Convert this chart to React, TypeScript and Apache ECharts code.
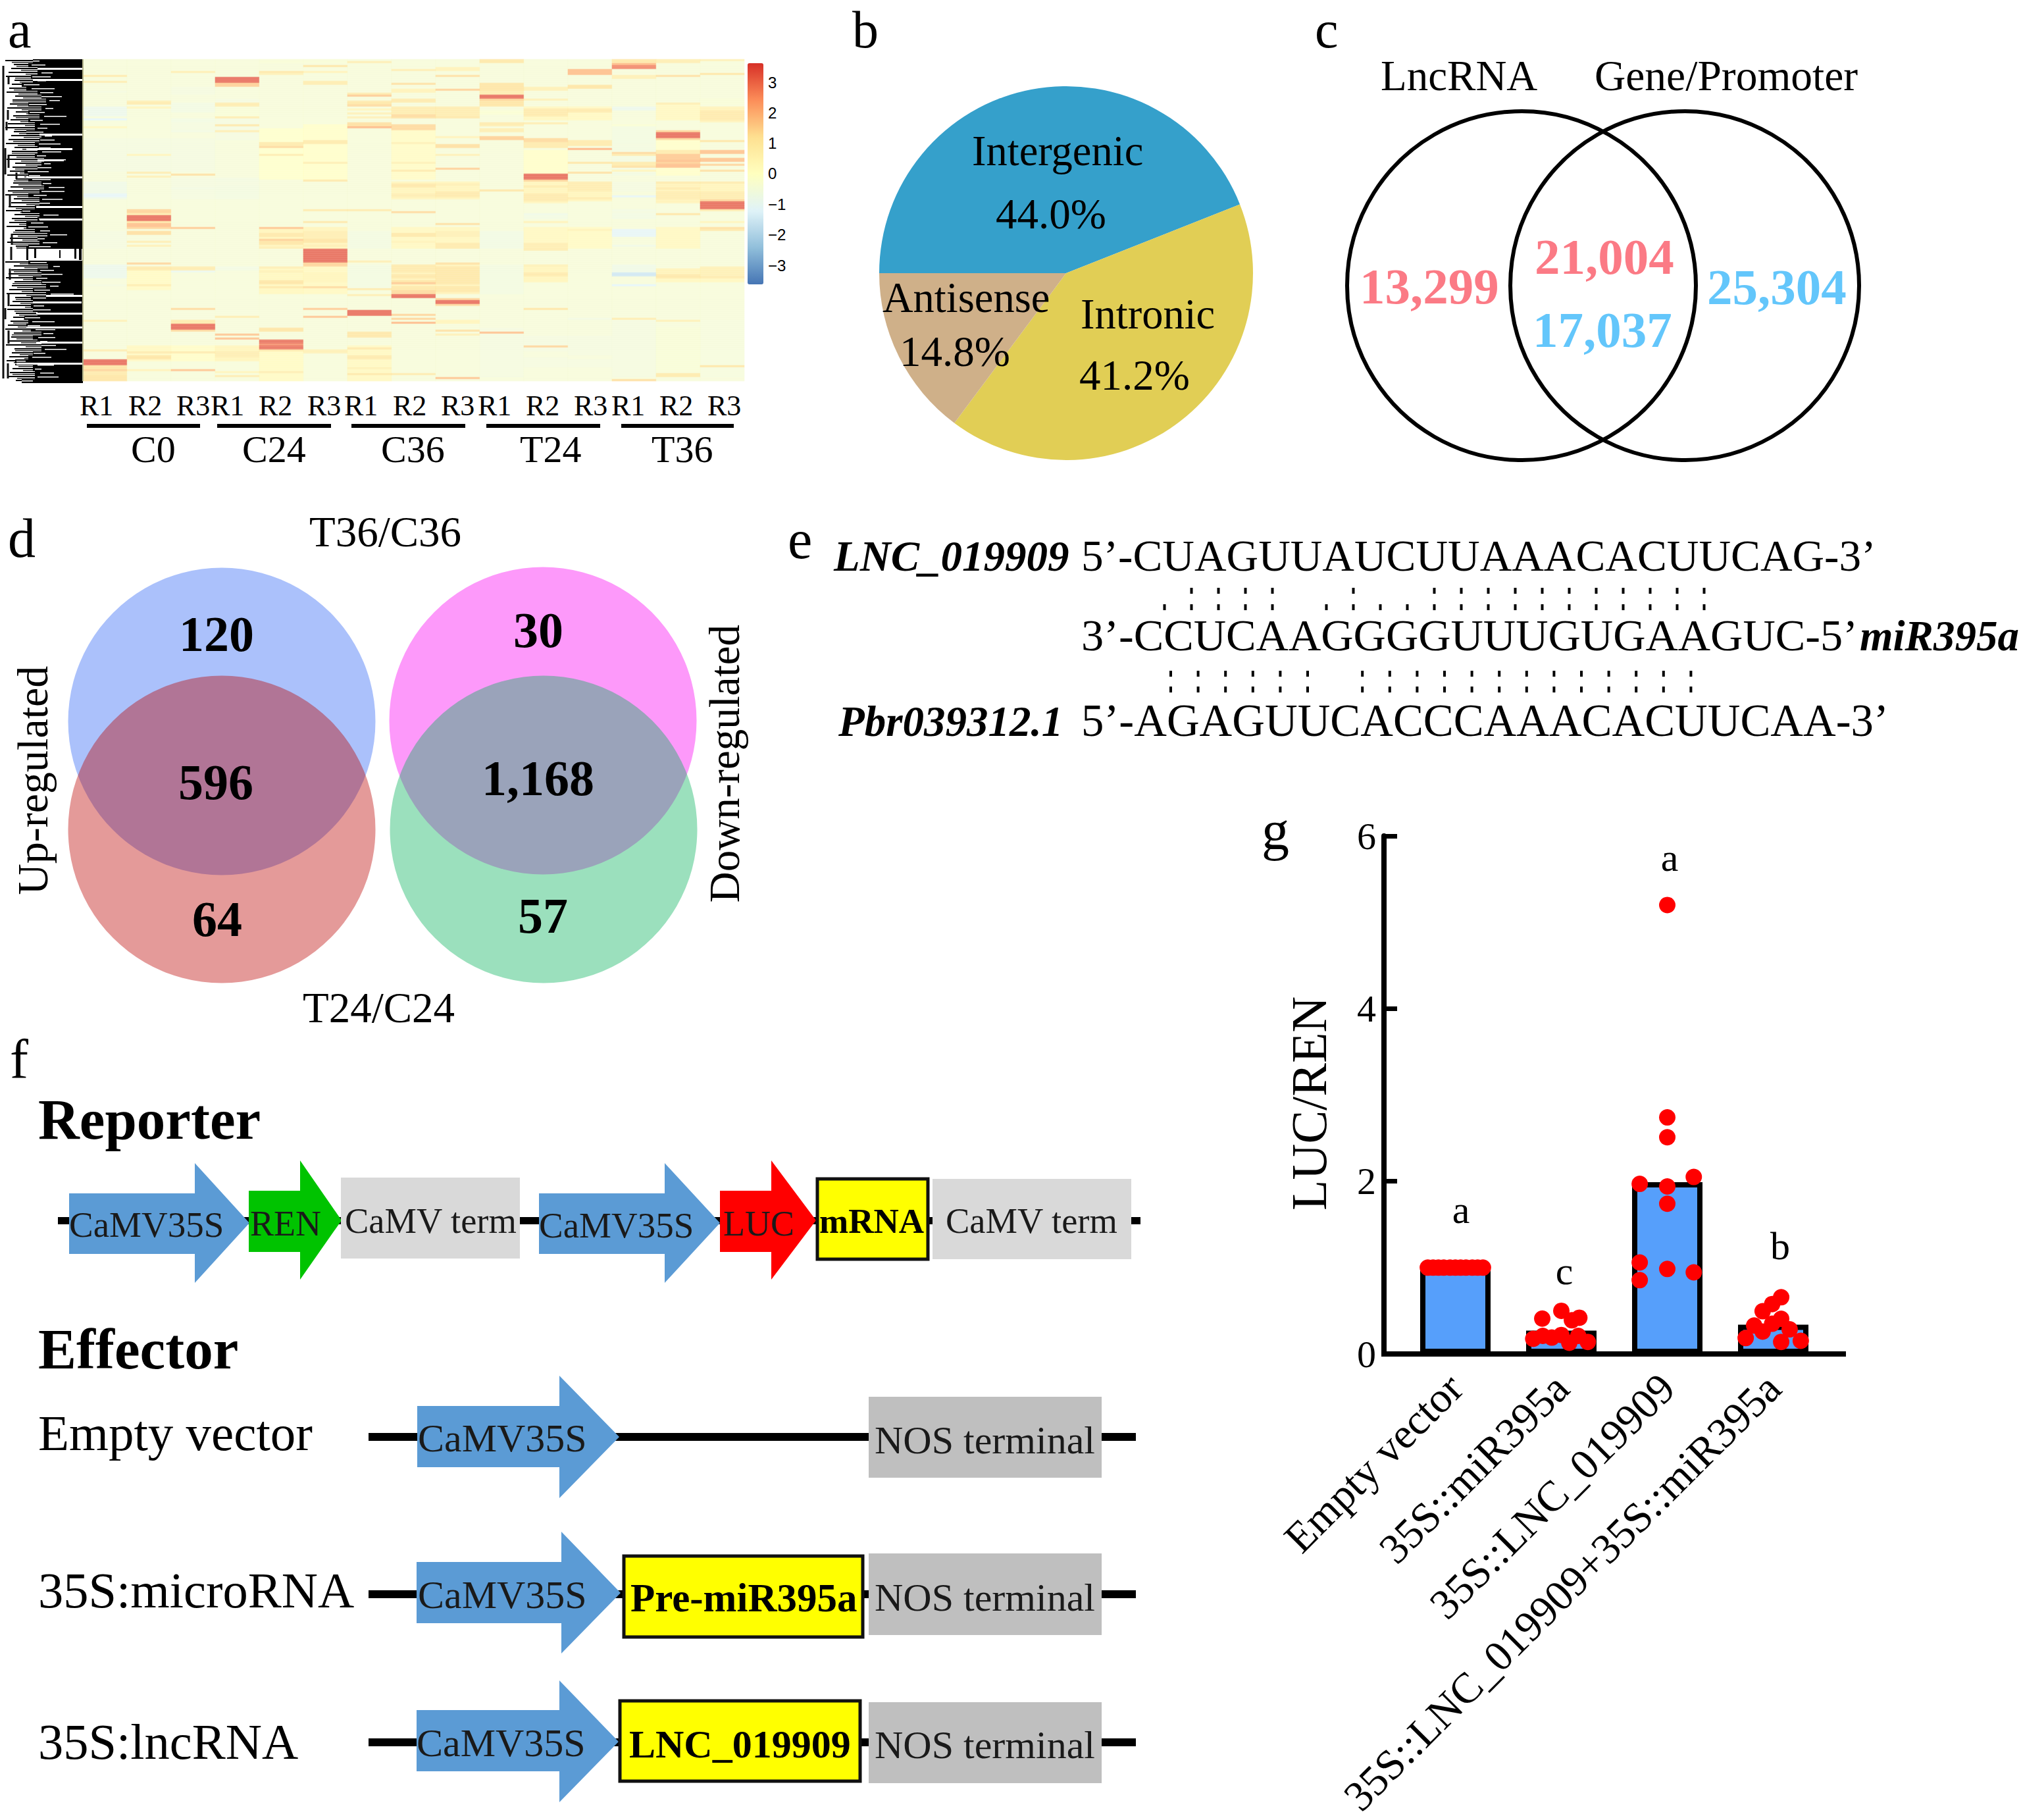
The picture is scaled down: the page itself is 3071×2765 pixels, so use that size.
import React, { useEffect, useRef } from "react";
import * as echarts from "echarts";

// ---------- panel a : heat map ----------
const heatColumns = ["C0 R1","C0 R2","C0 R3","C24 R1","C24 R2","C24 R3","C36 R1","C36 R2","C36 R3","T24 R1","T24 R2","T24 R3","T36 R1","T36 R2","T36 R3"];
const heatRowCount = 163;
const heatBase = -0.38;
type Band = number[];
const c0: Band[] = [[8,8,1],[11,11,.9],[16,16,-.5],[24,28,-.8],[30,30,-1.2],[34,34,.4],[62,70,-.7],[68,69,-1.1],[87,95,-.5],[104,110,-.8],[114,114,-.5],[132,132,.7],[147,147,.9],[152,154,3.2],[155,156,1.2],[157,157,1.5],[158,159,1],[160,162,1.2]];
const c1: Band[] = [[0,1,-.4],[21,21,.8],[22,22,1],[24,24,.5],[28,30,-.4],[48,48,.5],[57,57,.9],[59,59,.7],[76,77,1.5],[78,78,.9],[79,81,3.2],[82,82,1.1],[83,84,1.9],[85,85,1.5],[87,88,1.3],[92,92,.8],[94,94,.7],[103,103,1.5],[105,106,1],[114,114,.9],[148,148,1],[150,151,1.2],[157,157,.6]];
const c2: Band[] = [[0,1,-.4],[6,6,.8],[14,17,-.5],[22,26,-.6],[32,35,-.5],[58,58,1.3],[65,65,-.6],[85,85,1.7],[93,95,-.4],[105,106,.9],[107,107,-.9],[126,126,1.4],[132,133,1],[134,136,3.2],[137,137,1.4],[148,148,1],[157,157,1.8]];
const c3: Band[] = [[9,11,3.2],[12,13,1.6],[22,23,.9],[24,28,-.3],[29,29,.9],[33,33,1.1],[36,36,.8],[62,63,-.5],[105,106,-.6],[130,130,.9],[139,139,1.8],[141,141,1.9],[148,150,.8],[158,158,.5],[160,160,.9]];
const c4: Band[] = [[0,1,-.3],[6,6,1.1],[7,7,.7],[42,43,1],[44,44,1.4],[48,48,.9],[85,85,1.8],[88,89,1.1],[91,91,1.6],[92,93,1.2],[95,95,.8],[105,105,.8],[107,107,.7],[112,113,1.2],[115,115,1.1],[136,137,1.2],[142,143,3.1],[144,144,2.7],[145,146,3.1],[147,147,1],[158,158,.8]];
const c5: Band[] = [[0,1,-.3],[3,3,1.2],[6,6,.6],[11,12,.9],[41,42,1],[52,52,.8],[61,61,1.1],[76,76,1],[82,82,1.1],[87,90,.8],[91,92,1.2],[94,94,.8],[96,102,3.2],[103,104,1.5],[108,112,.5],[115,115,1.4],[126,126,1.7],[130,130,1.8],[132,132,-.4],[147,148,.7]];
const c6: Band[] = [[1,1,.8],[17,17,1],[18,18,1.7],[21,21,1],[22,22,1.2],[23,23,1.4],[25,25,.5],[27,27,.7],[29,29,.7],[32,34,1.3],[34,34,2],[76,76,1],[102,102,.8],[116,116,1],[119,119,.8],[127,129,3.2],[138,140,1.1],[146,146,1.1],[150,151,1],[156,156,.7],[159,159,1.1]];
const c7: Band[] = [[5,5,.8],[12,12,1.3],[15,16,.6],[20,21,1],[24,27,.9],[28,28,1.4],[29,29,1.3],[33,35,1.4],[42,42,.7],[52,52,.7],[56,56,1],[63,64,1.1],[68,69,.8],[77,77,1.4],[88,89,1.1],[92,92,.6],[104,107,1],[109,110,1.1],[112,112,1.2],[113,113,1.7],[115,116,1.1],[117,118,1.4],[119,120,3.2],[129,129,1.5],[131,131,1.5],[133,133,2],[159,159,1]];
const c8: Band[] = [[4,5,.6],[8,8,1.3],[15,15,1.6],[24,28,.9],[29,29,1.1],[39,39,.6],[43,44,1.3],[48,48,.7],[55,55,1.6],[63,63,.8],[67,69,1],[83,83,1.3],[87,89,.7],[93,95,1],[103,103,1.3],[105,113,1.1],[115,117,1.1],[121,121,1.5],[122,123,3.2],[124,124,1.4],[132,133,.5],[137,137,1.3],[139,139,.7],[161,161,1.8]];
const c9: Band[] = [[0,1,1.1],[12,12,1.2],[13,15,1.2],[16,17,.9],[18,19,3.2],[20,20,1.5],[21,21,1.2],[22,23,1.2],[26,27,-.2],[32,32,1],[33,33,.9],[35,36,.8],[39,40,1.6],[66,66,1.2],[138,138,1.9]];
const c10: Band[] = [[14,15,.7],[20,20,.7],[25,28,1],[32,32,.9],[40,41,1.4],[42,44,1],[58,60,3.2],[61,61,1.5],[64,64,1],[68,71,1],[78,78,-.7],[82,82,.6],[93,95,.8],[96,96,.9],[104,104,.7],[108,109,1],[126,126,1.2],[145,145,1.5],[148,150,-.4]];
const c11: Band[] = [[5,7,1.9],[13,14,1.2],[25,26,1],[41,41,1],[42,43,1],[45,45,2.1],[52,52,1.2],[57,57,1.3],[62,66,.9],[70,70,1],[86,86,.6],[131,131,-.6],[150,151,-.4]];
const c12: Band[] = [[0,1,1.1],[2,2,2],[3,4,2.8],[8,9,.7],[15,17,-.4],[20,20,-.4],[24,25,-.8],[33,33,-.2],[43,43,-.5],[47,47,1.4],[48,48,1],[52,53,1],[54,54,1.3],[56,56,.5],[62,66,-.5],[69,69,-1.1],[77,77,-.5],[86,89,-1.1],[94,94,-.7],[104,109,-.7],[108,109,-1.6],[114,114,-1.2],[131,131,.9],[162,162,1.3]];
const c13: Band[] = [[0,1,.8],[8,8,1.3],[22,22,.8],[36,36,1.5],[37,39,3.2],[40,40,1.4],[46,47,1],[48,50,1.7],[51,51,1.9],[52,52,1.6],[53,54,1.9],[62,62,1],[65,65,1],[67,70,.9],[78,78,1.2],[106,108,.6],[109,110,1.1],[132,132,.7],[159,160,1]];
const c14: Band[] = [[0,0,.7],[7,7,1.2],[20,22,-.3],[26,30,1],[41,41,1.2],[46,47,1.8],[50,51,1.8],[53,53,1.5],[56,56,1.3],[62,62,1],[67,70,.9],[71,71,1.5],[72,75,3.2],[76,76,1],[82,82,.5],[85,85,1.3],[86,86,1.1],[105,109,.7],[110,110,1],[155,155,1.2]];
const heatBands = [c0,c1,c2,c3,c4,c5,c6,c7,c8,c9,c10,c11,c12,c13,c14];
// broad, faint tints: [column, from row, to row, value]
const heatTints: Band[] = [[7,24,29,.5],[8,24,29,.5],[10,24,30,.4],[11,24,30,.3],[13,23,30,.3],[14,24,31,.6],[7,62,70,.5],[8,62,70,.5],[10,62,72,.5],[11,62,71,.5],[13,62,72,.6],[14,62,72,.5],[7,104,118,.6],[8,104,118,.6],[13,106,112,.4],[14,105,112,.4],[10,104,112,.5],[4,85,95,.5],[5,85,95,.5],[7,85,95,.3],[8,85,95,.4],[10,85,95,.3],[11,85,95,.2],[13,85,95,.3],[4,105,118,.4],[5,105,118,.3],[1,105,116,.2],[3,145,152,.5],[1,145,152,.3],[2,145,152,.1],[6,145,162,.3],[4,145,162,.2],[9,136,160,-.5],[10,140,155,-.5],[11,140,155,-.5],[12,132,160,-.5],[13,136,160,-.3],[14,132,160,-.45],[9,87,95,-.6],[9,104,118,-.55],[10,78,80,-.6],[12,76,80,-.6],[6,87,95,-.55],[6,104,115,-.55],[3,20,40,-.5],[2,30,36,-.6],[2,40,56,-.5],[1,40,56,-.5],[0,40,56,-.5],[3,60,70,-.55],[2,60,70,-.5],[5,33,60,.05],[4,35,60,-.05],[7,36,60,.15],[10,46,58,.05],[12,33,58,-.55],[13,41,58,.05]];
const colorBarTicks = ["3","2","1","0","\u22121","\u22122","\u22123"];
const repLabels = ["R1","R2","R3"];
const heatGroups = ["C0","C24","C36","T24","T36"];

// dendrogram: where the black mass begins on each 6-pixel band of rows
const dendroDepth = [50,43,57,57,47,50,33,40,57,63,70,43,63,43,60,43,53,53,40,63,60,53,57,57,53,67,63,57,37,43,43,63,67,60,43,60,60,53,33,60,57,
  40,40,53,72,57,60,43,126,126,126,43,73,57,63,50,63,70,50,70,47,50,47,50,57,37,43,40,47,63,50,57,63,63,50,43,23,50,50,53,53,33];
const dendroStripes = [[103,57,126],[120,50,126],[203,60,126],[225,40,110],[242,57,97],[268,40,126],[313,55,126],[332,60,126],[448,70,126],[458,50,124],[475,55,126],[496,40,126],[519,55,126],[551,25,126]];
const dendroTrunks = [[5,100,575],[13,115,128],[12,167,182],[10,185,198],[8,225,265],[13,235,255],[25,262,272],[15,295,315],[18,355,372],[17,375,395],[15,408,425],[13,445,465],[8,468,485],[13,502,522],[12,552,575]];
const dendroBlocks = [[40,375,3,20],[52,378,3,14],[90,380,2,12],[113,378,3,15],[120,378,4,17]];

// ---------- panel b : pie ----------
const pieNames = ["Intergenic","Intronic","Antisense"];
const pieValues = [44.0,41.2,14.8];
const pieColors = ["#35a0cb","#e1ce55","#cfb089"];

// ---------- panel c / d : venn counts ----------
const vennCCounts = ["13,299","21,004","17,037","25,304"];
const vennDCounts = ["120","596","64","30","1,168","57"];

// ---------- panel e : sequences ----------
const seqLnc = "5\u2019-CUAGUUAUCUUAAACACUUCAG-3\u2019";
const seqMir = "3\u2019-CCUCAAGGGGUUUGUGAAGUC-5\u2019";
const seqPbr = "5\u2019-AGAGUUCACCCAAACACUUCAA-3\u2019";
const pairsTopA = [1,2,3,4,7,10,11,12,13,14,15,16,17,18,19,20];
const pairsTopB = [0,1,2,3,4,6,7,8,9,10,11,12,13,14,15,16,17,18,19,20];
const pairsLow = [0,1,2,3,4,5,7,8,9,10,11,12,13,14,15,16,17,18,19];

// ---------- panel g : bars and points ----------
const barCategories = ["Empty vector","35S::miR395a","35S::LNC_019909","35S::LNC_019909+35S::miR395a"];
const barValues = [1.0,0.27,1.99,0.34];
const barLetters = ["a","c","a","b"];
const yTicks = [0,2,4,6];
const pointsEmpty = [[.24,1],[.29,1],[.34,1],[.39,1],[.45,1],[.5,1],[.55,1],[.6,1],[.66,1],[.71,1],[.76,1]];
const pointsMir = [[1.32,.41],[1.5,.5],[1.6,.39],[1.67,.42],[1.235,.175],[1.325,.21],[1.41,.19],[1.5,.22],[1.575,.13],[1.66,.21],[1.75,.14]];
const pointsLnc = [[2.5,5.2],[2.5,2.74],[2.5,2.51],[2.75,2.05],[2.24,1.97],[2.5,1.94],[2.5,1.74],[2.24,1.06],[2.5,.985],[2.75,.945],[2.24,.855]];
const pointsBoth = [[3.575,.657],[3.49,.578],[3.4,.495],[3.575,.407],[3.32,.33],[3.49,.35],[3.4,.26],[3.655,.285],[3.24,.184],[3.575,.14],[3.76,.153]];

const FONT = '"Liberation Serif"';
type O = { bold?: boolean; italic?: boolean; fill?: string; align?: string; rot?: number; family?: string; z?: number };
function T(text: string, x: number, base: number, size: number, o: O = {}) {
  return {
    type: "text", x, y: base - 0.3375 * size, z: o.z ?? 20, silent: true, rotation: o.rot ?? 0,
    style: {
      text, x: 0, y: 0, fill: o.fill ?? "#000",
      font: `${o.italic ? "italic " : ""}${o.bold ? "bold " : ""}${size}px ${o.family ?? FONT}`,
      align: o.align ?? "left", verticalAlign: "middle",
    },
  };
}
function R(x: number, y: number, w: number, h: number, fill: string, z = 5, stroke?: string, lw = 0) {
  return { type: "rect", z, silent: true, shape: { x, y, width: w, height: h }, style: { fill, stroke: stroke ?? "none", lineWidth: lw } };
}
function C(cx: number, cy: number, r: number, fill: string, stroke = "none", lw = 0, z = 5) {
  return { type: "circle", z, silent: true, shape: { cx, cy, r }, style: { fill, stroke, lineWidth: lw } };
}
function arrow(x0: number, x1: number, x2: number, yT: number, yB: number, hT: number, hB: number, tip: number, fill: string) {
  return {
    type: "polygon", z: 6, silent: true,
    shape: { points: [[x0,yT],[x1,yT],[x1,hT],[x2,tip],[x1,hB],[x1,yB],[x0,yB]] },
    style: { fill },
  };
}

function buildGraphic() {
  const g: any[] = [];
  // panel letters
  g.push(T("a",12,72,80), T("b",1295,72,80), T("c",1998,72,80), T("d",12,846,84), T("e",1197,848,84), T("f",15,1637,84), T("g",1917,1290,84));

  // dendrogram: black mass, fine branches in the light part, white slivers in the black part
  const pts: number[][] = [[126,90]];
  dendroDepth.forEach((d, i) => { pts.push([d, 90 + 6 * i], [d, 96 + 6 * i]); });
  pts.push([126, 582]);
  g.push({ type: "polygon", z: 5, silent: true, shape: { points: pts }, style: { fill: "#000" } });
  dendroDepth.forEach((d, i) => {
    const a = 8 + (i * 13) % 17, b = 18 + (i * 7) % 23, y = 90 + 6 * i;
    if (d < 126) {
      if (a < d) g.push(R(a, y + 1, d - a, 2, "#000", 6));
      if (b < d) g.push(R(b, y + 4, d - b, 1.5, "#222", 6));
      g.push(R(d + (i * 5) % 9, y + 2, 10 + (i * 11) % 26, 1.5, "#fff", 6));
    }
  });
  dendroStripes.forEach(([y, a, b]) => g.push(R(a, y, b - a, 3, "#fff", 7)));
  dendroBlocks.forEach(([x, y, w, h]) => g.push(R(x, y, w, h, "#000", 8)));
  dendroTrunks.forEach(([x, a, b]) => g.push(R(x - 1.5, a, 3, b - a, "#111", 8)));
  g.push(R(125, 90, 2, 489, "#b5b58b", 8));

  // heat-map column labels
  const repStarts = [121,195,268,320,393,467,523,597,670,726,799,872,929,1002,1075];
  repStarts.forEach((x, i) => g.push(T(repLabels[i % 3], x, 631, 44)));
  const barSpans = [[132,304],[330,503],[534,707],[739,912],[944,1115]];
  barSpans.forEach(([a, b]) => g.push(R(a, 644, b - a, 6, "#000")));
  const groupStarts = [199,368,579,790,990];
  heatGroups.forEach((t, i) => g.push(T(t, groupStarts[i], 702, 58)));
  const tickY = [126,172,218,264,311,357,404];
  colorBarTicks.forEach((t, i) => g.push(T(t, 1167, tickY[i] + 8, 24, { family: '"Liberation Sans"' })));

  // pie labels
  g.push(T(pieNames[0],1477,251,64.5), T("44.0%",1513,347,65), T(pieNames[2],1341,474,64.5), T("14.8%",1367,556,65), T(pieNames[1],1642,499,64.5), T("41.2%",1640,592,65));

  // venn c
  g.push(C(2312,434,265,"none","#000",6), C(2560,434,265,"none","#000",6));
  g.push(T("LncRNA",2098,137,65), T("Gene/Promoter",2423,137,65.5));
  const red = "#fb7a85", sky = "#63c6fb";
  g.push(T(vennCCounts[0],2066,461,77,{bold:true,fill:red}), T(vennCCounts[1],2332,416,77,{bold:true,fill:red}), T(vennCCounts[2],2329,527,77,{bold:true,fill:sky}), T(vennCCounts[3],2594,462,77,{bold:true,fill:sky}));

  // venn d
  g.push(C(337,1096,233.5,"#abc1fb"), { ...C(337,1260,233.5,"rgba(187,3,0,0.4)"), z: 6 });
  g.push(C(825,1095,233.5,"#fd99fa"), { ...C(826,1260,233.5,"rgba(5,177,90,0.4)"), z: 6 });
  g.push(T("T36/C36",470,830,65), T("T24/C24",460,1553,65));
  g.push(T("Up-regulated",49,1208,66,{rot:Math.PI/2,align:"center"}), T("Down-regulated",1101,1182,65,{rot:Math.PI/2,align:"center"}));
  const dStart = [[272,989],[271,1214],[292,1422],[780,983],[732,1208],[787,1417]];
  vennDCounts.forEach((t, i) => g.push(T(t, dStart[i][0], dStart[i][1], 76, { bold: true })));

  // panel e
  g.push(T("LNC_019909",1267,867,65,{bold:true,italic:true}), T(seqLnc,1643,867,67.3));
  g.push(T(seqMir,1643,988,68.3), T("miR395a",2826,988,65,{bold:true,italic:true}));
  g.push(T("Pbr039312.1",1274,1118,65,{bold:true,italic:true}), T(seqPbr,1643,1118,68.8));
  pairsTopA.forEach(i => g.push(R(1767.5 + 41 * i, 893, 4, 9, "#000")));
  pairsTopB.forEach(i => g.push(R(1767.5 + 41 * i, 918, 4, 9, "#000")));
  pairsLow.forEach(i => { g.push(R(1777 + 41.6 * i, 1019, 4, 9, "#000"), R(1777 + 41.6 * i, 1043, 4, 9, "#000")); });

  // panel f : reporter
  const blue = "#5b9bd5", dark = "#1a1a1a";
  g.push(T("Reporter",58,1730,87,{bold:true}), T("Effector",58,2079,87,{bold:true}));
  g.push(R(88,1849,1645,11,"#000",4));
  g.push(arrow(105,296,379,1813,1905,1767,1949,1858,blue), arrow(378,456,519,1809,1902,1763,1944,1854,"#00c300"));
  g.push(R(518,1789,272,123,"#d9d9d9",6));
  g.push(arrow(819,1010,1094,1813,1905,1767,1949,1858,blue), arrow(1094,1172,1240,1809,1902,1763,1944,1854,"#ff0000"));
  g.push(R(1242,1791,168,122,"#ffff00",6,"#111",5), R(1417,1791,302,122,"#d9d9d9",6));
  g.push(T("CaMV35S",105,1879,55,{fill:dark}), T("REN",380,1877,54,{fill:dark}), T("CaMV term",524,1873,54.5,{fill:dark}));
  g.push(T("CaMV35S",819,1880,55,{fill:dark}), T("LUC",1099,1877,54,{fill:dark}), T("mRNA",1245,1873,53,{bold:true}), T("CaMV term",1437,1873,54.5,{fill:dark}));

  // panel f : effectors
  g.push(T("Empty vector",58,2203,77), T("35S:microRNA",58,2442,76.5), T("35S:lncRNA",58,2672,76.5));
  const nos = "#bfbfbf";
  g.push(R(560,2177,1166,12,"#000",4), R(560,2416,1166,12,"#000",4), R(560,2641,1166,12,"#000",4));
  g.push(arrow(634,850,941,2136,2229,2090,2276,2183,blue), R(1320,2122,354,123,nos,6));
  g.push(arrow(633,853,943,2373,2466,2327,2512,2420,blue), R(948,2364,363,123,"#ffff00",6,"#111",5), R(1320,2360,354,124,nos,6));
  g.push(arrow(633,850,940,2598,2691,2553,2738,2646,blue), R(942,2584,365,122,"#ffff00",6,"#111",5), R(1320,2586,354,123,nos,6));
  g.push(T("CaMV35S",635,2205,60,{fill:dark}), T("CaMV35S",635,2443,60,{fill:dark}), T("CaMV35S",633,2668,60,{fill:dark}));
  [2208,2447,2671].forEach(y => g.push(T("NOS terminal",1329,y,60,{fill:dark})));
  g.push(T("Pre-miR395a",958,2448,61,{bold:true}), T("LNC_019909",956,2670,60,{bold:true}));

  // panel g : extras
  g.push(R(2099,2053,706,8,"#000",30));
  g.push(T("LUC/REN",1989,1702,76,{rot:Math.PI/2,align:"center"}));
  const letterPos = [[2220,1858],[2377,1951],[2537,1323],[2705,1913]];
  barLetters.forEach((t, i) => g.push(T(t, letterPos[i][0], letterPos[i][1], 60, { align: "center" })));
  return g;
}

function heatData() {
  const out: number[][] = [];
  heatBands.forEach((bands, col) => {
    const rows = new Array(heatRowCount).fill(heatBase);
    heatTints.filter(t => t[0] === col).forEach(([, a, b, v]) => { for (let r = a; r <= b; r++) rows[r] = v; });
    bands.forEach(([a, b, v]) => { for (let r = a; r <= b; r++) rows[r] = v; });
    rows.forEach((v, r) => out.push([col, r, v]));
  });
  return out;
}

export default function App() {
  const ref = useRef<HTMLDivElement>(null);
  useEffect(() => {
    if (!ref.current) return;
    const chart = echarts.init(ref.current, undefined, { renderer: "svg" });
    const hide = { axisLine: { show: false }, axisTick: { show: false }, axisLabel: { show: false }, splitLine: { show: false } };
    chart.setOption({
      animation: false,
      backgroundColor: "#fff",
      grid: [
        { left: 126, top: 90, width: 1005, height: 489, outerBoundsMode: "none" },
        { left: 2131, top: 1270, width: 644, height: 787, outerBoundsMode: "none" },
      ],
      xAxis: [
        { type: "category", gridIndex: 0, data: heatColumns, ...hide },
        {
          type: "category", gridIndex: 1, data: barCategories, z: 5,
          axisLine: { onZero: false, lineStyle: { color: "#000", width: 8 } },
          axisTick: { inside: true, alignWithLabel: true, length: 23, lineStyle: { color: "#000", width: 7 } },
          axisLabel: { rotate: 45, interval: 0, margin: 41, color: "#000", fontFamily: FONT, fontSize: 65 },
        },
        { type: "value", gridIndex: 1, min: 0, max: 4, show: false },
      ],
      yAxis: [
        { type: "category", gridIndex: 0, inverse: true, data: Array.from({ length: heatRowCount }, (_, i) => String(i)), ...hide },
        {
          type: "value", gridIndex: 1, min: yTicks[0], max: yTicks[yTicks.length - 1], interval: 2, offset: 28, z: 5,
          axisLine: { show: true, onZero: false, lineStyle: { color: "#000", width: 8 } },
          axisTick: { show: true, inside: true, length: 20, lineStyle: { color: "#000", width: 7 } },
          axisLabel: { margin: 12, color: "#000", fontFamily: FONT, fontSize: 58 },
          splitLine: { show: false },
        },
      ],
      visualMap: {
        type: "continuous", seriesIndex: 0, min: -3.6, max: 3.6, left: 1136, top: 96, itemWidth: 24, itemHeight: 336,
        padding: 0, calculable: false, text: ["", ""], showLabel: false, textStyle: { fontSize: 0 },
        inRange: { color: ["#4575b4","#91bfdb","#e0f3f8","#ffffbf","#fee090","#fc8d59","#d73027"] },
      },
      series: [
        { type: "heatmap", xAxisIndex: 0, yAxisIndex: 0, data: heatData(), silent: true, itemStyle: { opacity: 0.7 }, emphasis: { disabled: true } },
        {
          type: "pie", center: [1620, 415], radius: [0, 284], startAngle: 180, clockwise: true, silent: true,
          label: { show: false }, labelLine: { show: false },
          data: pieNames.map((name, i) => ({ name, value: pieValues[i], itemStyle: { color: pieColors[i] } })),
        },
        {
          type: "bar", xAxisIndex: 1, yAxisIndex: 1, data: barValues, barWidth: 107, silent: true,
          itemStyle: { color: "#569ffb", borderColor: "#000", borderWidth: 8 },
        },
        ...[pointsEmpty, pointsMir, pointsLnc, pointsBoth].map(d => ({
          type: "scatter", xAxisIndex: 2, yAxisIndex: 1, data: d, symbolSize: 25, z: 10, silent: true,
          itemStyle: { color: "#ff0000", opacity: 1 },
        })),
      ],
      graphic: { elements: buildGraphic() },
    });
    return () => chart.dispose();
  }, []);
  return <div ref={ref} style={{ position: "absolute", left: 0, top: 0, width: 3071, height: 2765 }} />;
}
